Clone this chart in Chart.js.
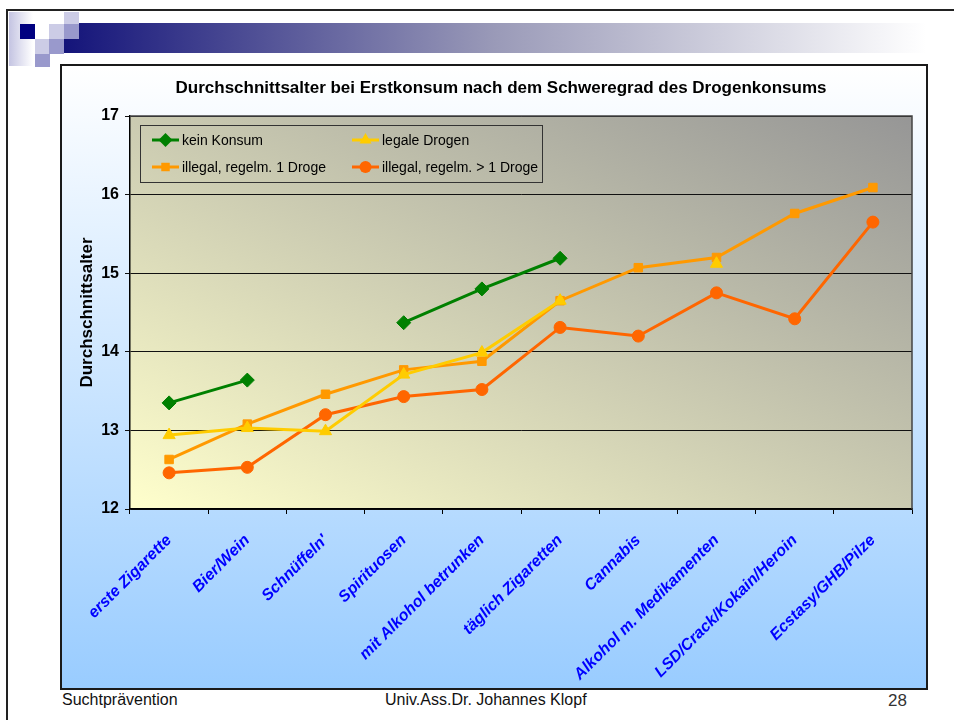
<!DOCTYPE html>
<html>
<head>
<meta charset="utf-8">
<script src="https://cdn.jsdelivr.net/npm/chart.js@4.4.1/dist/chart.umd.min.js"></script>
<style>
body { margin: 0; width: 954px; height: 720px; overflow: hidden; background: #fff; position: relative;
	font-family: "Liberation Sans", Arial, sans-serif; }
.abs { position: absolute; }
#frame { left: 6px; top: 9px; width: 960px; height: 720px; border-top: 2px solid #222; border-left: 2px solid #222; }
#fade { left: 9px; top: 12px; width: 24px; height: 54px; background: linear-gradient(90deg, #c4c4e2, #fff); }
#bar { left: 64px; top: 23px; width: 862px; height: 30px; background: linear-gradient(90deg, #14147a, #9a9ab8 50%, #fff); }
.sq { position: absolute; width: 15px; height: 15px; }
#box { left: 60px; top: 64px; width: 864px; height: 622px; border: 2px solid #1a1a1a;
	background: linear-gradient(#ffffff, #99ccff); }
.foot { position: absolute; top: 691px; font-size: 16px; color: #111; white-space: nowrap; }
</style>
</head>
<body>
<div id="frame" class="abs"></div>
<div id="fade" class="abs"></div>
<div id="bar" class="abs"></div>
<div class="sq" style="left:20px;top:24px;background:#000080"></div>
<div class="sq" style="left:64px;top:12px;height:12px;background:#ccccE6"></div>
<div class="sq" style="left:49px;top:24px;background:#ccccE6"></div>
<div class="sq" style="left:64px;top:24px;background:#9999cc"></div>
<div class="sq" style="left:35px;top:39px;background:#ccccE6"></div>
<div class="sq" style="left:49px;top:39px;background:#9999cc"></div>
<div class="sq" style="left:35px;top:54px;height:13px;background:#9999cc"></div>

<div id="box" class="abs"><canvas id="myChart" width="864" height="622"></canvas></div>

<div class="foot" style="left:62px">Suchtprävention</div>
<div class="foot" style="left:385px">Univ.Ass.Dr. Johannes Klopf</div>
<div class="foot" style="left:888px;font-size:17px;color:#333">28</div>

<script>
"use strict";

const categories = ['erste Zigarette', 'Bier/Wein', "Schnüffeln'", 'Spirituosen', 'mit Alkohol betrunken',
	'täglich Zigaretten', 'Cannabis', 'Alkohol m. Medikamenten', 'LSD/Crack/Kokain/Heroin', 'Ecstasy/GHB/Pilze'];
const keinKonsum = [13.35, 13.64, null, 14.37, 14.80, 15.19, null, null, null, null];
const legaleDrogen = [12.94, 13.03, 12.99, 13.71, 13.99, 14.65, null, 15.12, null, null];
const illegalEine = [12.63, 13.08, 13.46, 13.77, 13.88, 14.65, 15.07, 15.20, 15.76, 16.09];
const illegalMehr = [12.46, 12.53, 13.20, 13.43, 13.52, 14.31, 14.20, 14.75, 14.42, 15.65];
const seriesNames = ['kein Konsum', 'legale Drogen', 'illegal, regelm. 1 Droge', 'illegal, regelm. > 1 Droge'];
const yMin = 12, yMax = 17;

const FONT = '"Liberation Sans", Arial, sans-serif';

function series(label, data, color, style, radius) {
	return {
		label: label, data: data,
		borderColor: color, backgroundColor: color,
		pointBackgroundColor: color, pointBorderColor: color,
		borderWidth: 3, pointStyle: style, pointRadius: radius, pointBorderWidth: 1,
		spanGaps: false, tension: 0
	};
}

// plot area: diagonal yellow -> gray
const plotBg = {
	id: 'plotBg',
	beforeDraw(chart) {
		const {ctx, chartArea: a} = chart;
		const w = a.right - a.left, h = a.bottom - a.top;
		const L = Math.sqrt(w * w + h * h);
		const cx = (a.left + a.right) / 2, cy = (a.top + a.bottom) / 2;
		const ux = h / L, uy = -w / L, d = w * h / L;
		const g = ctx.createLinearGradient(cx - d * ux, cy - d * uy, cx + d * ux, cy + d * uy);
		g.addColorStop(0, '#ffffcc');
		g.addColorStop(1, '#969696');
		ctx.save();
		ctx.fillStyle = g;
		ctx.fillRect(a.left, a.top, w, h);
		ctx.restore();
	},
	afterDraw(chart) {
		const {ctx, chartArea: a} = chart;
		ctx.save();
		ctx.strokeStyle = '#444';
		ctx.lineWidth = 1.5;
		ctx.beginPath();
		ctx.moveTo(a.left, a.top);
		ctx.lineTo(a.right, a.top);
		ctx.lineTo(a.right, a.bottom);
		ctx.stroke();
		// title
		ctx.fillStyle = '#000';
		ctx.font = 'bold 17px ' + FONT;
		ctx.textAlign = 'center';
		ctx.textBaseline = 'middle';
		ctx.fillText('Durchschnittsalter bei Erstkonsum nach dem Schweregrad des Drogenkonsums', 439, 22);
		ctx.restore();
	}
};

// legend box inside the plot, two columns
const legendBox = {
	id: 'legendBox',
	afterDatasetsDraw(chart) {
		const ctx = chart.ctx;
		ctx.save();
		ctx.strokeStyle = '#333';
		ctx.lineWidth = 1;
		ctx.strokeRect(78.5, 59.5, 402, 57);
		const cols = [90, 290], rows = [74, 101];
		chart.data.datasets.forEach((ds, i) => {
			const x = cols[i % 2], y = rows[Math.floor(i / 2)];
			ctx.strokeStyle = ds.borderColor;
			ctx.lineWidth = 3;
			ctx.beginPath();
			ctx.moveTo(x, y);
			ctx.lineTo(x + 27, y);
			ctx.stroke();
			ctx.fillStyle = ds.backgroundColor;
			Chart.helpers.drawPoint(ctx, {pointStyle: ds.pointStyle, radius: ds.pointRadius, rotation: 0}, x + 13.5, y);
			ctx.fillStyle = '#000';
			ctx.font = '14px ' + FONT;
			ctx.textAlign = 'left';
			ctx.textBaseline = 'middle';
			ctx.fillText(ds.label, x + 30, y + 1);
		});
		ctx.restore();
	}
};

new Chart(document.getElementById('myChart'), {
	type: 'line',
	data: {
		labels: categories,
		datasets: [
			series(seriesNames[0], keinKonsum, '#008000', 'rectRot', 7),
			series(seriesNames[1], legaleDrogen, '#FFCC00', 'triangle', 7),
			series(seriesNames[2], illegalEine, '#FF9900', 'rect', 6),
			series(seriesNames[3], illegalMehr, '#FF6600', 'circle', 6)
		]
	},
	options: {
		responsive: false,
		animation: false,
		devicePixelRatio: 1,
		layout: {padding: {left: 8, right: 14, top: 50, bottom: 0}},
		plugins: {legend: {display: false}, tooltip: {enabled: false}, title: {display: false}},
		scales: {
			x: {
				offset: true,
				grid: {display: true, drawOnChartArea: false, drawTicks: true, tickLength: 5, color: '#000', offset: true},
				border: {display: true, color: '#000', width: 1.5},
				ticks: {
					color: '#0000ff', autoSkip: false, minRotation: 45, maxRotation: 45, padding: 17,
					font: {family: FONT, size: 16, weight: 'bold', style: 'italic'}
				},
				afterFit(s) { s.height = 179; }
			},
			y: {
				min: yMin, max: yMax,
				ticks: {stepSize: 1, color: '#000', padding: 6, font: {family: FONT, size: 16, weight: 'bold'}},
				grid: {color: '#111', lineWidth: 1, tickLength: 5},
				border: {display: true, color: '#000', width: 1.5},
				title: {display: true, text: 'Durchschnittsalter', color: '#000', padding: {top: 7, bottom: 0},
					font: {family: FONT, size: 17, weight: 'bold'}},
				afterFit(s) { s.width = 60; }
			}
		}
	},
	plugins: [plotBg, legendBox]
});
</script>
</body>
</html>
